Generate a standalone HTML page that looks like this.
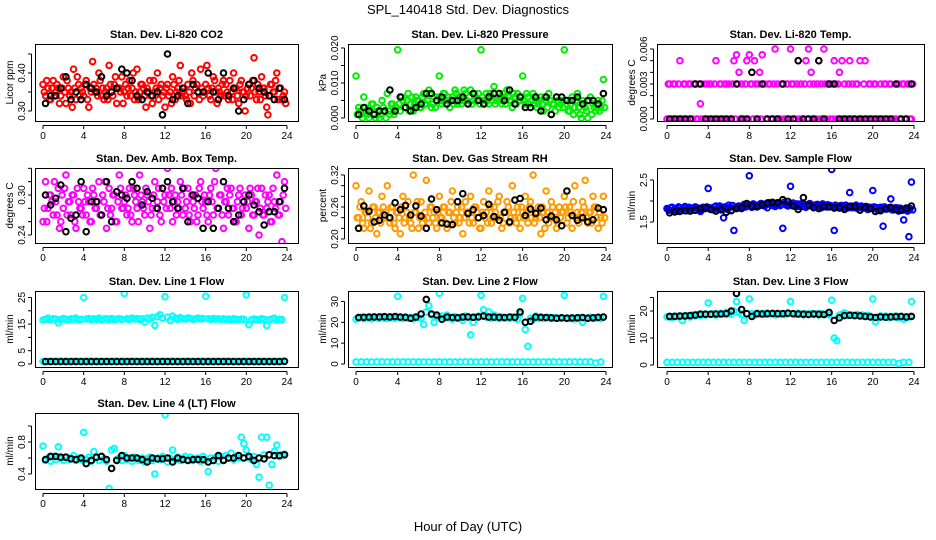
<!DOCTYPE html>
<html><head><meta charset="utf-8">
<style>
html,body{margin:0;padding:0;background:#fff;}
svg{display:block;font-family:"Liberation Sans",Arial,sans-serif;}
</style></head>
<body>
<svg id="chart" width="936" height="540" viewBox="0 0 936 540">
<text x="468" y="14" text-anchor="middle" font-size="13">SPL_140418  Std. Dev. Diagnostics</text>
<text x="468" y="531" text-anchor="middle" font-size="13">Hour of Day (UTC)</text>
</svg>
<script>
const xTicks=[0,4,8,12,16,20,24];
const co2Color=[0.37,0.34,0.36,0.33,0.38,0.35,0.36,0.34,0.39,0.32,0.36,0.35,0.41,0.33,0.37,0.36,0.34,0.38,0.31,0.35,0.37,0.36,0.40,0.34,
0.33,0.36,0.42,0.35,0.37,0.32,0.36,0.39,0.35,0.34,0.38,0.36,0.33,0.41,0.35,0.37,0.34,0.36,0.38,0.32,0.35,0.40,0.36,0.34,
0.31,0.37,0.35,0.39,0.33,0.36,0.42,0.35,0.34,0.37,0.32,0.38,0.36,0.35,0.41,0.34,0.37,0.36,0.33,0.39,0.35,0.36,0.34,0.38,
0.37,0.33,0.35,0.40,0.36,0.32,0.38,0.35,0.34,0.37,0.36,0.44,0.33,0.35,0.39,0.36,0.31,0.34,0.37,0.35,0.40,0.36,0.33,0.35];
const co2Color2=[0.35,0.38,0.33,0.36,0.34,0.37,0.32,0.36,0.35,0.38,0.34,0.31,0.36,0.39,0.34,0.35,0.37,0.33,0.36,0.43,0.35,0.34,0.38,0.36,
0.35,0.33,0.37,0.34,0.39,0.36,0.35,0.32,0.37,0.36,0.34,0.40,0.35,0.33,0.37,0.36,0.31,0.35,0.34,0.38,0.36,0.33,0.37,0.35,
0.36,0.34,0.32,0.37,0.35,0.38,0.34,0.36,0.33,0.35,0.40,0.34,0.37,0.33,0.36,0.35,0.42,0.34,0.36,0.38,0.32,0.35,0.37,0.34,
0.35,0.38,0.33,0.36,0.34,0.37,0.35,0.30,0.36,0.34,0.38,0.35,0.37,0.33,0.36,0.34,0.29,0.37,0.35,0.38,0.33,0.36,0.34,0.32];
const co2Black=[0.32,0.34,0.34,0.36,0.39,0.33,0.35,0.33,0.37,0.36,0.35,0.39,0.34,0.35,0.36,0.41,0.40,0.38,0.34,0.33,0.35,0.34,0.35,0.29,0.45,0.33,0.34,0.36,0.32,0.37,0.35,0.35,0.40,0.35,0.33,0.40,0.34,0.36,0.30,0.33,0.37,0.38,0.36,0.35,0.34,0.33,0.36,0.33];
const presColor=[0.012,0.003,0.001,0.006,0.002,0.000,0.004,0.001,0.003,0.000,0.005,0.002,0.007,0.001,0.004,0.003,
0.0195,0.002,0.005,0.003,0.007,0.004,0.002,0.006,0.005,0.003,0.007,0.004,0.008,0.003,0.006,0.005,
0.012,0.004,0.007,0.005,0.003,0.006,0.008,0.004,0.006,0.005,0.007,0.004,0.008,0.005,0.006,0.007,
0.0195,0.005,0.007,0.004,0.006,0.009,0.005,0.007,0.004,0.006,0.008,0.005,0.003,0.006,0.007,0.005,
0.012,0.004,0.006,0.003,0.007,0.005,0.004,0.006,0.002,0.005,0.007,0.001,0.004,0.006,0.003,0.005,
0.0195,0.004,0.002,0.006,0.003,0.007,0.001,0.005,0.003,0.000,0.006,0.004,0.002,0.005,0.003,0.011];
const presColor2=[0.001,0.002,0.000,0.003,0.001,0.002,0.004,0.000,0.002,0.001,0.003,0.000,0.002,0.004,0.001,0.003,
0.004,0.006,0.003,0.005,0.002,0.006,0.004,0.005,0.003,0.006,0.004,0.005,0.007,0.004,0.003,0.006,
0.005,0.007,0.004,0.006,0.005,0.004,0.007,0.006,0.004,0.008,0.005,0.006,0.004,0.007,0.005,0.004,
0.006,0.004,0.005,0.007,0.005,0.004,0.006,0.005,0.007,0.004,0.006,0.005,0.007,0.004,0.005,0.006,
0.005,0.007,0.004,0.005,0.006,0.003,0.005,0.004,0.006,0.003,0.005,0.004,0.002,0.005,0.004,0.003,
0.005,0.002,0.004,0.001,0.005,0.003,0.000,0.004,0.002,0.005,0.001,0.003,0.004,0.002,0.005,0.003];
const presBlack=[0.001,0.003,0.002,0.001,0.002,0.002,0.008,0.002,0.006,0.003,0.002,0.003,0.004,0.007,0.007,0.005,0.006,0.004,0.005,0.005,0.006,0.004,0.007,0.005,0.004,0.006,0.007,0.007,0.005,0.008,0.004,0.006,0.003,0.003,0.006,0.002,0.006,0.001,0.006,0.006,0.005,0.005,0.006,0.004,0.005,0.005,0.004,0.007];
const tempColor=[0,0.003,0,0.003,0,0.005,0,0.003,0,0.003,0,0.003,0,0.0013,0,0,
0,0.003,0,0.005,0,0.003,0,0.003,0.003,0,0.005,0.0055,0.004,0.003,0,0.005,
0.0055,0.003,0.005,0,0.004,0.0055,0.003,0,0.003,0,0.006,0.003,0,0.003,0,0.003,
0.006,0.003,0,0.005,0.003,0,0.005,0.006,0.004,0.003,0,0.005,0.003,0.006,0,0.003,
0.003,0.005,0,0.004,0.005,0.003,0,0.005,0.003,0,0.003,0.005,0,0.005,0,0.003,
0,0.003,0,0.003,0,0.003,0,0.003,0,0,0.003,0,0.003,0,0.003,0];
const tempColor2=[0.003,0,0.003,0,0.003,0,0.003,0,0.003,0,0.003,0,0.003,0,0.003,0.003,
0.003,0,0.003,0,0.003,0,0.003,0,0,0.003,0,0.003,0,0,0.003,0,
0.003,0,0.003,0.003,0,0.003,0,0.003,0,0.003,0,0,0.003,0,0.003,0,
0.003,0,0.003,0,0,0.003,0,0.003,0,0,0.003,0,0,0.003,0.003,0,
0,0.003,0.003,0,0,0,0.003,0,0,0.003,0,0,0.003,0,0.003,0,
0.003,0,0,0,0.003,0,0.003,0,0,0.003,0,0.003,0,0.003,0,0.003];
const tempBlack=[0,0,0,0,0,0.003,0.003,0,0,0,0,0,0,0.003,0,0,0.004,0,0.003,0,0,0,0.003,0,0,0.005,0,0,0,0.005,0,0.003,0.003,0,0,0,0,0,0,0,0,0,0,0,0.003,0,0,0.003];
const ambColor=[0.26,0.32,0.28,0.30,0.27,0.29,0.31,0.26,0.28,0.33,0.29,0.27,0.30,0.25,0.29,0.28,
0.31,0.27,0.29,0.26,0.30,0.28,0.32,0.27,0.29,0.25,0.31,0.28,0.30,0.26,0.33,0.28,
0.29,0.27,0.31,0.26,0.30,0.28,0.33,0.29,0.27,0.30,0.25,0.28,0.32,0.29,0.27,0.31,
0.30,0.34,0.28,0.26,0.30,0.29,0.32,0.27,0.28,0.31,0.26,0.29,0.30,0.27,0.32,0.28,
0.29,0.26,0.31,0.27,0.34,0.28,0.30,0.25,0.29,0.27,0.31,0.28,0.26,0.30,0.27,0.29,
0.28,0.25,0.30,0.27,0.29,0.24,0.31,0.27,0.28,0.30,0.26,0.29,0.33,0.27,0.23,0.32];
const ambColor2=[0.28,0.26,0.30,0.29,0.32,0.27,0.25,0.30,0.31,0.27,0.29,0.30,0.26,0.31,0.28,0.27,
0.29,0.30,0.26,0.31,0.28,0.29,0.27,0.30,0.32,0.28,0.27,0.30,0.26,0.29,0.31,0.28,
0.30,0.28,0.27,0.31,0.29,0.26,0.30,0.28,0.31,0.29,0.27,0.30,0.28,0.31,0.26,0.29,
0.28,0.30,0.31,0.29,0.27,0.28,0.30,0.31,0.29,0.27,0.30,0.28,0.26,0.31,0.29,0.30,
0.27,0.30,0.29,0.32,0.28,0.30,0.27,0.29,0.31,0.30,0.28,0.26,0.29,0.31,0.28,0.30,
0.29,0.31,0.27,0.29,0.31,0.28,0.27,0.30,0.29,0.26,0.31,0.28,0.27,0.29,0.30,0.28];
const ambBlack=[0.30,0.285,0.295,0.315,0.245,0.265,0.27,0.32,0.245,0.29,0.29,0.27,0.32,0.26,0.305,0.30,0.295,0.32,0.31,0.285,0.305,0.295,0.28,0.31,0.32,0.29,0.28,0.31,0.26,0.30,0.295,0.25,0.29,0.25,0.28,0.32,0.28,0.26,0.27,0.29,0.30,0.285,0.275,0.255,0.275,0.275,0.29,0.31];
const rhColor=[0.30,0.24,0.27,0.22,0.25,0.29,0.23,0.26,0.21,0.25,0.28,0.24,0.30,0.23,0.26,0.22,
0.25,0.21,0.28,0.24,0.27,0.23,0.32,0.25,0.22,0.27,0.24,0.31,0.23,0.26,0.25,0.22,
0.28,0.24,0.26,0.22,0.25,0.29,0.23,0.26,0.24,0.21,0.27,0.25,0.28,0.23,0.26,0.24,
0.22,0.27,0.25,0.29,0.23,0.26,0.24,0.28,0.22,0.25,0.27,0.23,0.30,0.24,0.26,0.22,
0.25,0.28,0.23,0.27,0.32,0.24,0.26,0.21,0.25,0.29,0.23,0.27,0.24,0.22,0.26,0.25,
0.28,0.23,0.26,0.22,0.30,0.25,0.24,0.27,0.31,0.23,0.25,0.28,0.26,0.22,0.24,0.28];
const rhColor2=[0.24,0.26,0.23,0.25,0.24,0.22,0.26,0.24,0.25,0.23,0.26,0.25,0.24,0.26,0.23,0.25,
0.24,0.26,0.23,0.25,0.24,0.22,0.25,0.27,0.24,0.23,0.25,0.24,0.26,0.24,0.23,0.25,
0.24,0.26,0.23,0.25,0.27,0.24,0.25,0.23,0.26,0.24,0.25,0.23,0.24,0.26,0.25,0.22,
0.25,0.24,0.23,0.26,0.24,0.25,0.27,0.24,0.23,0.25,0.26,0.24,0.25,0.23,0.24,0.26,
0.24,0.25,0.26,0.24,0.23,0.25,0.24,0.26,0.22,0.25,0.24,0.26,0.25,0.23,0.24,0.25,
0.26,0.24,0.25,0.27,0.24,0.23,0.25,0.26,0.24,0.25,0.23,0.26,0.24,0.25,0.23,0.24];
const rhBlack=[0.22,0.262,0.252,0.232,0.235,0.245,0.24,0.268,0.255,0.263,0.245,0.262,0.243,0.22,0.275,0.255,0.23,0.228,0.227,0.27,0.285,0.248,0.255,0.24,0.244,0.265,0.242,0.235,0.25,0.232,0.273,0.276,0.244,0.256,0.248,0.258,0.236,0.243,0.236,0.225,0.29,0.244,0.235,0.24,0.232,0.236,0.258,0.255];
const flowColor=[1.82,1.78,1.85,1.80,1.76,1.84,1.79,1.87,1.81,1.77,1.83,1.86,1.80,1.75,1.85,1.82,
2.30,1.83,1.79,1.88,1.81,1.86,1.60,1.84,1.90,1.78,1.30,1.85,1.88,1.82,1.92,1.87,
2.60,1.85,1.91,1.86,1.89,1.93,1.88,1.84,1.94,1.90,1.87,1.92,1.89,1.35,1.93,1.88,
2.35,1.95,1.90,1.87,1.93,1.89,1.85,1.92,1.88,1.86,1.91,1.87,1.84,1.90,1.86,1.88,
2.75,1.30,1.86,1.83,1.89,1.85,1.87,2.20,1.84,1.88,1.82,1.86,1.83,1.87,1.80,1.85,
2.25,1.82,1.78,1.85,1.40,1.81,1.83,2.05,1.79,1.84,1.76,1.82,1.55,1.78,1.15,2.45];
const flowColor2=[1.80,1.84,1.78,1.82,1.86,1.79,1.83,1.77,1.85,1.81,1.78,1.84,1.82,1.79,1.83,1.86,
1.84,1.80,1.86,1.82,1.88,1.83,1.86,1.80,1.85,1.89,1.84,1.87,1.83,1.88,1.86,1.90,
1.88,1.93,1.87,1.90,1.94,1.89,1.92,1.96,1.90,1.94,1.91,1.95,1.92,1.97,1.90,1.93,
1.91,1.88,1.93,1.90,1.87,1.92,1.89,1.94,1.90,1.88,1.92,1.89,1.93,1.87,1.91,1.89,
1.87,1.90,1.85,1.89,1.86,1.90,1.84,1.88,1.86,1.90,1.85,1.88,1.84,1.87,1.85,1.83,
1.86,1.84,1.80,1.83,1.86,1.81,1.84,1.79,1.82,1.80,1.83,1.78,1.81,1.76,1.82,1.79];
const flowBlack=[1.72,1.74,1.75,1.77,1.76,1.78,1.82,1.84,1.80,1.76,1.79,1.73,1.77,1.82,1.84,1.94,1.88,1.87,1.91,1.95,1.97,1.96,2.03,1.99,1.88,1.80,2.08,1.90,1.84,1.82,1.87,1.86,1.83,1.85,1.80,1.87,1.87,1.78,1.84,1.82,1.75,1.77,1.81,1.85,1.80,1.78,1.83,1.88];
const line1High=[16.5,16.8,17.2,16.6,17.0,16.9,15.5,16.7,17.1,16.8,16.6,17.0,16.9,17.2,16.7,16.8,
25.0,16.9,17.1,16.6,17.0,16.8,17.2,16.7,16.9,17.0,16.8,17.1,16.6,16.9,17.0,16.8,
26.5,17.0,16.8,17.2,16.9,17.1,16.7,17.0,15.8,17.3,16.9,17.5,14.5,17.8,18.5,17.2,
25.3,17.6,16.4,18.0,17.2,16.8,17.4,17.0,16.9,17.3,17.1,16.8,17.0,17.2,16.9,17.1,
25.5,17.0,16.8,17.1,16.9,17.0,16.7,17.0,16.8,16.9,16.6,17.0,16.8,16.7,16.9,16.8,
26.0,14.8,16.6,16.9,16.7,16.5,17.0,16.8,14.5,16.6,16.9,17.2,16.5,16.8,16.7,25.0];
const line1Low=[1.0,1.0,1.0,1.0,1.0,1.0,1.0,1.0,1.0,1.0,1.0,1.0,1.0,1.0,1.0,1.0,1.0,1.0,1.0,1.0,1.0,1.0,1.0,1.0,1.0,1.0,1.0,1.0,1.0,1.0,1.0,1.0,1.0,1.0,1.0,1.0,1.0,1.0,1.0,1.0,1.0,1.0,1.0,1.0,1.0,1.0,1.0,1.0];
const line1Black=[0.9,0.9,0.9,0.9,0.9,0.9,0.9,0.9,0.9,0.9,0.9,0.9,0.9,0.9,0.9,0.9,0.9,0.9,0.9,0.9,0.9,0.9,0.9,0.9,0.9,0.9,0.9,0.9,0.9,0.9,0.9,0.9,0.9,0.9,0.9,0.9,0.9,0.9,0.9,0.9,0.9,0.9,0.9,0.9,0.9,0.9,0.9,1.0];
const line2High=[21.5,22.0,22.5,21.8,22.3,22.0,21.7,22.4,22.1,21.9,22.6,22.0,21.8,22.3,22.1,22.0,
32.5,22.2,21.9,22.5,22.0,22.3,21.7,22.4,22.1,22.0,19.0,25.0,28.0,23.5,20.0,22.5,
34.0,23.0,22.0,23.5,22.2,21.5,22.8,22.0,22.4,21.0,23.0,22.5,14.0,20.0,22.5,23.0,
33.0,26.0,22.5,25.0,22.0,23.5,22.2,21.8,22.5,22.0,22.3,21.9,22.6,22.0,21.5,24.0,
31.5,16.5,8.5,22.0,21.5,23.0,22.0,22.3,21.9,22.1,22.4,21.8,22.2,22.0,21.9,22.1,
33.0,22.0,21.8,22.2,21.6,22.0,22.3,20.0,21.8,22.1,22.4,21.9,22.0,22.2,21.8,32.5];
const line2Low=[1.0,1.0,1.0,1.0,1.0,1.0,1.0,1.0,1.0,1.0,1.0,1.0,1.0,1.0,1.0,1.0,1.0,1.0,1.0,1.0,1.0,1.0,1.0,1.0,1.0,1.0,1.0,1.0,1.0,1.0,1.0,1.0,1.0,1.0,1.0,1.0,1.0,1.0,1.0,1.0,1.0,1.0,1.0,1.0,1.0,1.0,0.5,1.0];
const line2Black=[22.3,22.4,22.5,22.6,22.6,22.7,22.6,22.8,22.5,22.4,22.0,22.5,24.0,31.0,24.0,23.5,21.5,22.5,22.3,22.2,22.5,22.6,22.4,22.6,23.0,22.5,22.5,22.4,22.3,22.5,22.4,25.0,20.0,20.5,22.5,22.4,22.3,22.2,22.0,22.2,22.0,22.1,22.2,22.3,22.0,22.2,22.4,22.5];
const line3High=[17.8,18.0,17.6,18.2,17.9,18.1,16.5,18.0,18.3,17.8,18.5,18.2,18.6,18.3,18.8,18.5,
23.0,18.7,19.0,18.5,18.8,19.2,18.9,19.5,19.1,18.8,20.0,23.5,19.5,18.7,16.5,19.0,
24.5,19.0,18.6,19.2,18.8,19.1,18.7,19.3,18.9,19.0,18.6,19.2,18.8,19.0,18.7,19.1,
23.5,19.0,18.7,19.2,18.9,18.6,19.0,18.8,19.1,18.7,18.9,18.5,19.0,18.7,18.9,18.6,
24.0,10.0,9.0,18.5,18.8,19.3,18.4,18.6,18.5,18.3,18.7,18.2,18.5,18.0,18.4,18.1,
24.5,16.0,17.8,18.2,17.9,18.1,17.6,18.0,17.8,18.2,17.5,17.9,17.0,17.4,17.8,23.5];
const line3Low=[1.0,1.0,1.0,1.0,1.0,1.0,1.0,1.0,1.0,1.0,1.0,1.0,1.0,1.0,1.0,1.0,1.0,1.0,1.0,1.0,1.0,1.0,1.0,1.0,1.0,1.0,1.0,1.0,1.0,1.0,1.0,1.0,1.0,1.0,1.0,1.0,1.0,1.0,1.0,1.0,1.0,1.0,1.0,1.0,1.0,0.5,1.0,1.0];
const line3Black=[18.0,18.0,18.1,18.2,18.3,18.5,18.8,18.8,18.8,18.9,18.9,19.0,20.0,26.5,20.5,19.0,18.0,19.0,18.9,19.0,19.1,19.0,19.0,19.2,19.0,18.9,18.8,18.7,18.9,18.8,18.7,19.5,16.5,17.5,18.3,18.4,18.3,18.2,18.0,17.8,17.6,17.8,17.7,17.8,17.9,18.0,17.8,18.0];
const line4Color=[0.75,0.57,0.60,0.56,0.62,0.58,0.74,0.59,0.57,0.61,0.58,0.60,0.63,0.57,0.60,0.58,
0.92,0.58,0.61,0.56,0.68,0.60,0.57,0.62,0.59,0.56,0.22,0.70,0.72,0.58,0.60,0.57,
0.63,0.58,0.60,0.56,0.61,0.58,0.57,0.60,0.55,0.59,0.61,0.57,0.40,0.60,0.58,0.62,
1.14,0.55,0.60,0.70,0.58,0.61,0.57,0.60,0.62,0.58,0.61,0.57,0.59,0.60,0.56,0.62,
0.58,0.43,0.60,0.57,0.61,0.56,0.62,0.58,0.63,0.60,0.66,0.58,0.62,0.60,0.86,0.78,
0.70,0.60,0.58,0.62,0.52,0.36,0.86,0.64,0.86,0.26,0.52,0.68,0.76,0.62,0.64,0.65];
const line4Black=[0.58,0.62,0.62,0.61,0.61,0.59,0.58,0.60,0.53,0.57,0.61,0.62,0.58,0.47,0.57,0.63,0.60,0.60,0.60,0.58,0.55,0.60,0.59,0.59,0.60,0.55,0.60,0.58,0.57,0.58,0.58,0.58,0.55,0.57,0.63,0.57,0.60,0.60,0.63,0.60,0.62,0.57,0.60,0.59,0.64,0.63,0.63,0.64];

const co2Ticks=[0.30,0.35,0.40,0.45], co2Labels=["0.30","","0.40",""];
const presTicks=[0,0.005,0.010,0.015,0.020], presLabels=["0.000","","0.010","","0.020"];
const tempTicks=[0,0.001,0.002,0.003,0.004,0.005,0.006], tempLabels=["0.000","","","0.003","","","0.006"];
const ambTicks=[0.24,0.26,0.28,0.30,0.32,0.34], ambLabels=["0.24","","","0.30","",""];
const rhTicks=[0.20,0.22,0.24,0.26,0.28,0.30,0.32], rhLabels=["0.20","","","0.26","","","0.32"];
const flowTicks=[1.5,2.0,2.5], flowLabels=["1.5","","2.5"];
const l1Ticks=[0,5,10,15,20,25], l1Labels=["0","5","","15","","25"];
const l2Ticks=[0,10,20,30], l2Labels=["0","10","20","30"];
const l3Ticks=[0,10,20,25], l3Labels=["0","10","20",""];
const l4Ticks=[0.4,0.6,0.8,1.0], l4Labels=["0.4","","0.8",""];

const NS="http://www.w3.org/2000/svg";
const svg=document.getElementById('chart');
function mk(tag,attrs,parent){const e=document.createElementNS(NS,tag);for(const k in attrs)e.setAttribute(k,attrs[k]);(parent||svg).appendChild(e);return e;}

const cols=[{l:35,r:298,x0:43,x1:287},{l:348,r:612,x0:356,x1:606},{l:657,r:924,x0:667,x1:914}];
const rows=[{t:44,b:121},{t:168,b:243},{t:291,b:367},{t:413,b:489}];

const panels=[
 {name:"co2",title:"Stan. Dev. Li-820 CO2",ylab:"Licor ppm",c:0,r:0,v0:0.30,p0:111,v1:0.40,p1:73,ticks:co2Ticks,labels:co2Labels,series:[[co2Color,"#ff0000",0],[co2Color2,"#ff0000",1],[co2Black,"#000000",1]]},
 {name:"pressure",title:"Stan. Dev. Li-820 Pressure",ylab:"kPa",c:1,r:0,v0:0,p0:118,v1:0.02,p1:48,ticks:presTicks,labels:presLabels,series:[[presColor,"#00ee00",0],[presColor2,"#00ee00",1],[presBlack,"#000000",1]]},
 {name:"li820-temp",title:"Stan. Dev. Li-820 Temp.",ylab:"degrees C",c:2,r:0,v0:0,p0:119,v1:0.006,p1:49,ticks:tempTicks,labels:tempLabels,series:[[tempColor,"#ff00ff",0],[tempColor2,"#ff00ff",1],[tempBlack,"#000000",1]]},
 {name:"amb-box-temp",title:"Stan. Dev. Amb. Box Temp.",ylab:"degrees C",c:0,r:1,v0:0.24,p0:235,v1:0.30,p1:195,ticks:ambTicks,labels:ambLabels,series:[[ambColor,"#ff00ff",0],[ambColor2,"#ff00ff",1],[ambBlack,"#000000",1]]},
 {name:"gas-stream-rh",title:"Stan. Dev. Gas Stream RH",ylab:"percent",c:1,r:1,v0:0.20,p0:239,v1:0.32,p1:175,ticks:rhTicks,labels:rhLabels,series:[[rhColor,"#ff9a00",0],[rhColor2,"#ff9a00",1],[rhBlack,"#000000",1]]},
 {name:"sample-flow",title:"Stan. Dev. Sample Flow",ylab:"ml/min",c:2,r:1,v0:1.5,p0:222,v1:2.5,p1:180,ticks:flowTicks,labels:flowLabels,series:[[flowColor,"#0000ff",0],[flowColor2,"#0000ff",1],[flowBlack,"#000000",1]]},
 {name:"line1-flow",title:"Stan. Dev. Line 1 Flow",ylab:"ml/min",c:0,r:2,v0:0,p0:364,v1:25,p1:297.5,ticks:l1Ticks,labels:l1Labels,series:[[line1High,"#00ffff",0],[line1Low,"#00ffff",0],[line1Black,"#000000",1]]},
 {name:"line2-flow",title:"Stan. Dev. Line 2 Flow",ylab:"ml/min",c:1,r:2,v0:0,p0:364,v1:30,p1:301.5,ticks:l2Ticks,labels:l2Labels,series:[[line2High,"#00ffff",0],[line2Low,"#00ffff",0],[line2Black,"#000000",1]]},
 {name:"line3-flow",title:"Stan. Dev. Line 3 Flow",ylab:"ml/min",c:2,r:2,v0:0,p0:365,v1:20,p1:311,ticks:l3Ticks,labels:l3Labels,series:[[line3High,"#00ffff",0],[line3Low,"#00ffff",0],[line3Black,"#000000",1]]},
 {name:"line4-flow",title:"Stan. Dev. Line 4 (LT) Flow",ylab:"ml/min",c:0,r:3,v0:0.4,p0:474,v1:0.8,p1:442,ticks:l4Ticks,labels:l4Labels,series:[[line4Color,"#00ffff",0],[line4Black,"#000000",1]]}
];

panels.forEach(p=>{
 const C=cols[p.c],R=rows[p.r];
 const g=mk('g',{});
 
 
 const xs=h=>C.x0+(C.x1-C.x0)*h/24;
 const ys=v=>p.p0+(v-p.v0)*(p.p1-p.p0)/(p.v1-p.v0);
 const clip='clip-'+p.name;
 const cp=mk('clipPath',{id:clip},g);
 mk('rect',{x:C.l,y:R.t,width:C.r-C.l,height:R.b-R.t},cp);
 const t=mk('text',{x:(C.l+C.r)/2,y:R.t-6,'text-anchor':'middle','font-size':'11','font-weight':'bold'},g);
 t.textContent=p.title;
 
 
 const yl=mk('text',{transform:`translate(${C.l-22},${(R.t+R.b)/2}) rotate(-90)`,'text-anchor':'middle','font-size':'10'},g);
 yl.textContent=p.ylab;
 
 
 const pts=mk('g',{'clip-path':`url(#${clip})`,fill:'none','stroke-width':'2'},g);
 
 
 p.series.forEach(([arr,col,off])=>{
  const n=arr.length, black=col==="#000000";
  arr.forEach((v,i)=>{
   const h=(i+(off?0.5:0))*24/n;
   const c=mk('circle',{cx:xs(h).toFixed(1),cy:ys(v).toFixed(1),r:2.8,stroke:col},pts);
   
   
  });
 });
 const box=mk('rect',{x:C.l+0.5,y:R.t+0.5,width:C.r-C.l,height:R.b-R.t,fill:'none',stroke:'#000','stroke-width':'1'},g);
 
 
 const xa=mk('g',{},g);
 
 
 mk('line',{x1:xs(0),x2:xs(24),y1:R.b+4.5,y2:R.b+4.5,stroke:'#000'},xa);
 xTicks.forEach(h=>{
  mk('line',{x1:xs(h),x2:xs(h),y1:R.b+4.5,y2:R.b+8,stroke:'#000'},xa);
  const tl=mk('text',{x:xs(h),y:R.b+18,'text-anchor':'middle','font-size':'10'},xa);
  tl.textContent=h;
  
  
 });
 const ya=mk('g',{},g);
 
 
 const yt0=ys(p.ticks[0]),yt1=ys(p.ticks[p.ticks.length-1]);
 mk('line',{x1:C.l-3.5,x2:C.l-3.5,y1:yt0,y2:yt1,stroke:'#000'},ya);
 p.ticks.forEach((v,i)=>{
  const y=ys(v);
  mk('line',{x1:C.l-7,x2:C.l-3.5,y1:y,y2:y,stroke:'#000'},ya);
  if(p.labels[i]){
   const tl=mk('text',{transform:`translate(${C.l-10},${y}) rotate(-90)`,'text-anchor':'middle','font-size':'10'},ya);
   tl.textContent=p.labels[i];
   
   
  }
 });
});
</script>
</body></html>
